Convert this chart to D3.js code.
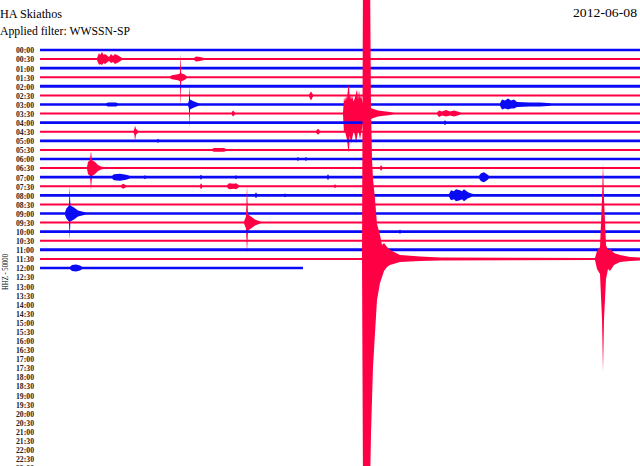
<!DOCTYPE html>
<html>
<head>
<meta charset="utf-8">
<script src="https://cdn.jsdelivr.net/npm/d3@7"></script>
<style>
  body { margin: 0; background: #fff; }
  svg { display: block; }
</style>
</head>
<body>
<div id="heli"></div>
<script>
// helicorder header
var stationName = "HA Skiathos";
var filterText = "Applied filter: WWSSN-SP";
var dayText = "2012-06-08";
var channelText = "HHZ - 50000";

// one row per half hour, 48 rows
var lineLabels = [];
for (var h = 0; h < 24; h++) {
    var hh = (h < 10 ? "0" : "") + h;
    lineLabels.push(hh + ":00");
    lineLabels.push(hh + ":30");
}
var lineColors = ["#0a0af5", "#ff0044"];   // :00 rows blue, :30 rows red
var minutesPerLine = 30;
var lastLine = 24;          // 12:00 row is the last one recorded
var lastMinute = 13.15;     // where the 12:00 row stops

// background noise half-width of each recorded row
var noiseAmp = [1.3, 1.0, 1.3, 1.0, 1.5, 1.0, 1.3, 1.0, 1.3, 1.0, 1.3, 1.0, 1.3,
                1.0, 1.3, 1.0, 1.3, 1.0, 1.3, 1.0, 1.3, 1.0, 1.5, 1.0, 1.3];

// events: [row, [[minute, up, down], ...]]  (amplitudes)
var events = [
    [1, [[2.85,1,1],[2.95,6,6],[3.0,4,5],[3.1,7,6],[3.18,4,4],[3.25,5,5],[3.45,2,2],[3.55,5,4],[3.65,3,3],[3.75,5,5],[3.95,3,3],[4.1,1,1]]],
    [1, [[7.7,1,1],[7.8,2.5,2.5],[8.0,2,2],[8.2,1,1]]],
    [3, [[6.5,1,1],[6.6,2,2],[6.9,3,3],[7.0,4,4],[7.03,24,31],[7.06,4,4],[7.2,3,3],[7.35,1,1]]],
    [5, [[13.45,1,1],[13.55,4,5],[13.65,1,1]]],
    [6, [[3.3,1.3,1.3],[3.4,2,2],[3.8,2,2],[3.9,1.3,1.3]]],
    [6, [[7.4,1.3,1.3],[7.45,4,4],[7.47,19,23],[7.5,5,5],[7.7,3,3],[7.9,1.5,1.5],[8.0,1.3,1.3]]],
    [6, [[23.0,1.3,1.3],[23.1,5,5],[23.25,4,4],[23.4,6,5],[23.55,4,4],[23.7,5,4],[23.85,2.5,2.5],[24.5,2,2],[25.0,2,2],[25.6,1.3,1.3]]],
    [7, [[9.58,1,1],[9.65,3,3],[9.75,1,1]]],
    [7, [[15.15,1,1],[15.2,16,20],[15.25,12,18],[15.3,18,22],[15.35,14,26],[15.4,25,35],[15.45,29,39],[15.48,16,22],
         [15.5,20,24],[15.55,14,30],[15.6,18,26],[15.68,12,18],[15.75,16,22],[15.8,20,30],[15.85,24,24],
         [15.9,14,18],[15.95,23,20],[16.0,15,26],[16.05,18,20],[16.15,10,10]]],
    [7, [[16.6,5,5],[16.9,3,3],[17.3,2,2],[17.7,1,1]]],
    [7, [[19.85,1,1],[19.95,3,3.5],[20.1,2,2],[20.3,3.5,3],[20.5,2,2],[20.7,3,3],[21.05,1,1]]],
    [8, [[20.2,1.3,1.3],[20.25,2.5,2.5],[20.3,1.3,1.3]]],
    [9, [[4.68,1,1],[4.72,3,3],[4.75,6,9],[4.8,3,3],[4.9,1,1]]],
    [9, [[13.8,1,1],[13.9,3,3],[14.0,1,1]]],
    [10, [[5.85,1.3,1.3],[5.9,2,2],[5.95,1.3,1.3]]],
    [11, [[8.6,1,1],[8.7,1.8,1.8],[9.2,1.8,1.8],[9.3,1,1]]],
    [12, [[12.85,1.3,1.3],[12.9,2,2],[12.95,1.3,1.3],[13.25,1.3,1.3],[13.3,2,2],[13.35,1.3,1.3]]],
    [13, [[2.35,1,1],[2.4,6,6],[2.5,8,8],[2.55,17,22],[2.6,8,8],[2.75,6,6],[2.9,3,3],[3.05,1.5,1.5],[3.2,1,1]]],
    [13, [[17.0,1,1],[17.05,3,3],[17.12,1,1]]],
    [14, [[3.6,1.3,1.3],[3.7,3,3],[4.0,3.5,3.5],[4.3,2.5,2.5],[4.5,1.3,1.3]]],
    [14, [[5.2,1.3,1.3],[5.25,2,2],[5.3,1.3,1.3]]],
    [14, [[8.0,1.3,1.3],[8.05,2.5,2.5],[8.1,1.3,1.3]]],
    [14, [[9.75,1.3,1.3],[9.8,2,2],[9.85,1.3,1.3]]],
    [14, [[14.35,1.3,1.3],[14.4,3,3],[14.45,1.3,1.3]]],
    [14, [[21.95,1.3,1.3],[22.05,4,4],[22.2,5,5],[22.35,3,3],[22.45,1.3,1.3]]],
    [15, [[4.05,1,1],[4.15,2.5,2.5],[4.3,1,1]]],
    [15, [[8.0,1,1],[8.05,3,3],[8.12,1,1]]],
    [15, [[9.35,1,1],[9.45,3,3],[9.7,2.5,2.5],[9.8,3,3],[9.95,1,1]]],
    [15, [[14.7,1,1],[14.75,2,2],[14.8,1,1]]],
    [16, [[10.75,1.3,1.3],[10.8,3,3],[10.85,1.3,1.3]]],
    [16, [[12.2,1.3,1.3],[12.25,1.8,1.8],[12.3,1.3,1.3]]],
    [16, [[20.45,1.3,1.3],[20.55,5,5],[20.7,4,4],[20.8,6,6],[21.0,5,5],[21.1,4,4],[21.2,6,6],[21.4,3,3],[21.6,1.5,1.5],[21.7,1.3,1.3]]],
    [18, [[1.25,1.3,1.3],[1.32,5,5],[1.45,8,8],[1.485,27,26],[1.52,8,8],[1.7,6,6],[1.9,3,3],[2.2,1.5,1.5],[2.3,1.3,1.3]]],
    [19, [[10.2,1,1],[10.3,6,6],[10.35,37,30],[10.4,8,8],[10.55,6,6],[10.75,3,3],[10.95,1.5,1.5],[11.05,1,1]]],
    [20, [[17.95,1.3,1.3],[18.0,2,2],[18.05,1.3,1.3]]],
    [23, [[16.1,1,1],[16.15,290,230],[16.5,290,230],[16.55,150,175],[16.6,100,141],[16.65,80,108],
          [16.75,60,74],[16.85,35,41],[17.0,24,24],[17.1,14,18],[17.2,16,12],[17.35,12,8],[17.5,9,6],[18.0,4,3],[19.0,2.5,2],[20.0,1.5,1.5]]],
    [23, [[27.75,1,1],[27.85,8,10],[28.0,12,15],[28.1,60,60],[28.15,96,113],[28.2,60,60],[28.3,14,20],
          [28.4,9,10],[28.5,10,12],[28.7,6,6],[29.0,4,3],[29.5,2,2],[30,1.5,1.5]]],
    [24, [[1.5,1.3,1.3],[1.6,3,3],[1.8,3.5,3.5],[2.0,2.5,2.5],[2.1,1.3,1.3]]]
];

var width = 640, height = 466;
var margin = { top: 50, left: 40 };
var step = 9.083;

var svg = d3.select("#heli").append("svg")
    .attr("width", width)
    .attr("height", height);

var x = d3.scaleLinear()
    .domain([0, minutesPerLine])
    .range([margin.left, width]);

var y = d3.scalePoint()
    .domain(lineLabels)
    .range([margin.top, margin.top + step * (lineLabels.length - 1)]);

// amplitude in pixels-ish units
var amp = d3.scaleLinear().domain([0, 10]).range([0, 10]);

// header texts
svg.append("text")
    .attr("x", 0).attr("y", 18)
    .attr("font-family", "Liberation Serif")
    .attr("font-size", 13)
    .attr("textLength", 62).attr("lengthAdjust", "spacingAndGlyphs")
    .text(stationName);

svg.append("text")
    .attr("x", 0).attr("y", 35)
    .attr("font-family", "Liberation Serif")
    .attr("font-size", 13)
    .attr("textLength", 130).attr("lengthAdjust", "spacingAndGlyphs")
    .text(filterText);

svg.append("text")
    .attr("x", 573).attr("y", 17)
    .attr("font-family", "Liberation Serif")
    .attr("font-size", 13)
    .attr("textLength", 64).attr("lengthAdjust", "spacingAndGlyphs")
    .text(dayText);

svg.append("text")
    .attr("transform", "translate(8,272) rotate(-90)")
    .attr("text-anchor", "middle")
    .attr("font-family", "Liberation Serif")
    .attr("font-size", 9)
    .attr("textLength", 36).attr("lengthAdjust", "spacingAndGlyphs")
    .text(channelText);

// time labels on the left
var yaxis = svg.append("g")
    .attr("transform", "translate(34,0)")
    .call(d3.axisLeft(y).tickSize(0).tickPadding(0));
yaxis.select(".domain").remove();
yaxis.selectAll("text")
    .attr("font-family", "Liberation Serif")
    .attr("font-size", 9)
    .attr("font-weight", "bold")
    .attr("fill", "#222")
    .attr("textLength", 18)
    .attr("lengthAdjust", "spacingAndGlyphs");

// build the envelope of one row from its noise level and events
function buildTrace(i) {
    var n = noiseAmp[i];
    var end = i == lastLine ? lastMinute : minutesPerLine;
    var pts = [[0, n, n]];
    events.filter(function (e) { return e[0] == i; })
        .sort(function (a, b) { return a[1][0][0] - b[1][0][0]; })
        .forEach(function (e) {
            e[1].forEach(function (p) { if (p[0] <= end) pts.push(p); });
        });
    if (pts[pts.length - 1][0] < end) pts.push([end, n, n]);
    return pts;
}

var traces = svg.append("g").attr("class", "traces");

for (var i = 0; i <= lastLine; i++) {
    var base = y(lineLabels[i]);
    var area = d3.area()
        .x(function (d) { return x(d[0]); })
        .y0(function (d) { return base + amp(d[2]); })
        .y1(function (d) { return base - amp(d[1]); });
    traces.append("path")
        .datum(buildTrace(i))
        .attr("fill", lineColors[i % 2])
        .attr("d", area);
}
</script>
</body>
</html>
